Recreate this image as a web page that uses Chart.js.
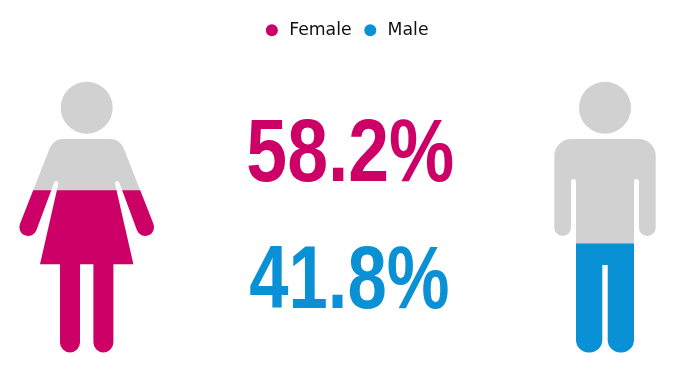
<!DOCTYPE html>
<html>
<head>
<meta charset="utf-8">
<style>
  html, body { margin: 0; padding: 0; background: #fff; }
  canvas { display: block; }
</style>
<script src="https://cdn.jsdelivr.net/npm/chart.js@4"></script>
</head>
<body>
<canvas id="myChart" width="673" height="373"></canvas>
<script>
var categories = ['Female', 'Male'];
var femaleValues = [58.2, null];
var maleValues = [null, 41.8];
var restValues = [41.8, 58.2];

var pink = '#cc0066';
var blue = '#0a90d4';
var grey = '#d1d1d1';

// half outlines of the two figures, from top centre to the crotch: [x, y, corner radius]
// x is relative to the category pixel, y to the bottom of the chart area
var femaleHalf = [[-33.3, -213.5, 14], [-70, -120.4, 8.8], [-53.4, -113.8, 8.8], [-32, -171.5, 2.3],
  [-27.7, -171.5, 2.3], [-46.7, -88.2, 0], [-26.7, -88.2, 0], [-26.7, 0, 10], [-6.7, 0, 10], [-6.7, -88.2, 0]];
var maleHalf = [[-50.7, -213.5, 17], [-50.7, -116.5, 8.3], [-34, -116.5, 8.3], [-34, -173.5, 2.4],
  [-29, -173.5, 2.4], [-29, 0, 12.5], [-2.7, 0, 12.5], [-2.7, -87.5, 0]];

function addFigure(ctx, half, x, y) {
  var right = half.slice().reverse().map(function (p) { return [-p[0], p[1], p[2]]; });
  var pts = half.concat(right);
  pts.push([0, half[0][1], 0]);
  ctx.translate(x, y);
  ctx.moveTo(0, half[0][1]);
  for (var i = 0; i < pts.length - 1; i++) {
    ctx.arcTo(pts[i][0], pts[i][1], pts[i + 1][0], pts[i + 1][1], pts[i][2]);
  }
  ctx.lineTo(0, half[0][1]);
  ctx.closePath();
  // head
  ctx.moveTo(26, -244.8);
  ctx.arc(0, -244.8, 26, 0, Math.PI * 2);
  ctx.closePath();
  ctx.translate(-x, -y);
}

// the stacked bars only show through the two figures
var figureClip = {
  id: 'figureClip',
  beforeDatasetsDraw: function (chart) {
    var ctx = chart.ctx;
    var xs = chart.scales.x;
    var bottom = chart.chartArea.bottom;
    ctx.save();
    ctx.beginPath();
    addFigure(ctx, femaleHalf, xs.getPixelForValue(0), bottom);
    addFigure(ctx, maleHalf, xs.getPixelForValue(1), bottom);
    ctx.clip();
  },
  afterDatasetsDraw: function (chart) {
    chart.ctx.restore();
  }
};

// the two big percentages between the figures, squeezed to a condensed width
var bigNumbers = {
  id: 'bigNumbers',
  afterDraw: function (chart) {
    var ctx = chart.ctx;
    var xs = chart.scales.x;
    var mid = (xs.getPixelForValue(0) + xs.getPixelForValue(1)) / 2;
    var bottom = chart.chartArea.bottom;
    ctx.save();
    ctx.font = 'bold 89px "Liberation Sans", sans-serif';
    ctx.textAlign = 'center';
    ctx.textBaseline = 'alphabetic';
    ctx.fillStyle = pink;
    ctx.fillText(femaleValues[0].toFixed(1) + '%', mid + 4.5, bottom - 171.5, 208);
    ctx.fillStyle = blue;
    ctx.fillText(maleValues[1].toFixed(1) + '%', mid + 3.5, bottom - 44.5, 200);
    ctx.restore();
  }
};

var ctx = document.getElementById('myChart').getContext('2d');

var myChart = new Chart(ctx, {
  type: 'bar',
  data: {
    labels: categories,
    datasets: [
      { label: 'Female', data: femaleValues, backgroundColor: pink, borderWidth: 0, clip: false },
      { label: 'Male', data: maleValues, backgroundColor: blue, borderWidth: 0, clip: false },
      { label: 'Rest', data: restValues, backgroundColor: grey, borderWidth: 0, clip: false }
    ]
  },
  options: {
    responsive: false,
    animation: false,
    layout: { padding: { left: 86.7, right: 68, top: 11.5, bottom: 20.5 } },
    datasets: { bar: { barThickness: 150 } },
    plugins: {
      tooltip: { enabled: false },
      legend: {
        position: 'top',
        fullSize: false,
        labels: {
          usePointStyle: true,
          pointStyle: 'circle',
          boxWidth: 18,
          boxHeight: 8.5,
          padding: 10,
          color: '#111',
          font: { family: '"DejaVu Sans"', size: 17.3 },
          filter: function (item) { return item.text !== 'Rest'; }
        }
      }
    },
    //figure bottom sits at 8.4, the grey rest fills up to 100
    scales: {
      x: { stacked: true, display: false, offset: false },
      y: { stacked: true, display: false, min: 8.4, max: 101.8 }
    }
  },
  plugins: [figureClip, bigNumbers]
});
</script>
</body>
</html>
